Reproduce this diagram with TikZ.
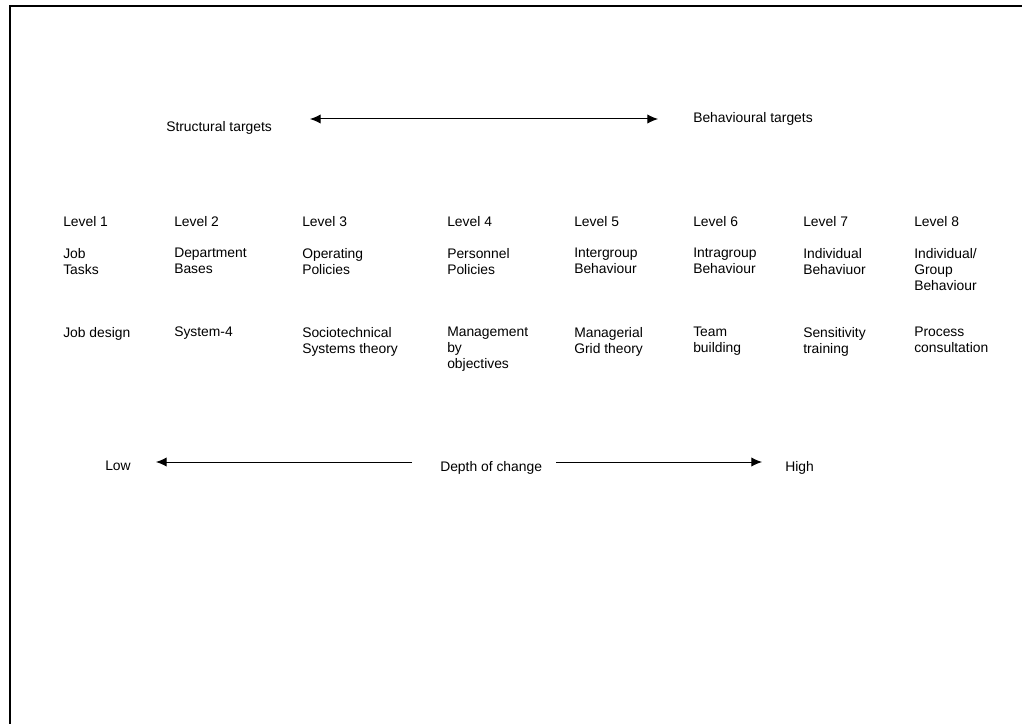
\documentclass[tikz,border=0pt]{standalone}
\usepackage{fontspec}
\setmainfont{Liberation Sans}
\usetikzlibrary{arrows.meta}

\begin{document}
\begin{tikzpicture}[x=0.75pt,y=-0.75pt]
  \tikzset{TextStyle/.style={anchor=north west, inner sep=0pt, align=left,
      font=\fontsize{10.4}{12}\selectfont}}
  \tikzset{ArrowStyle/.style={-{Latex[length=8pt,width=7pt]}, line width=0.75pt}}
  \tikzset{BothStyle/.style={{Latex[length=8pt,width=7pt]}-{Latex[length=8pt,width=7pt]}, line width=0.75pt}}
  \tikzset{FrameStyle/.style={line width=1.8pt}}

  \useasboundingbox (0,0) rectangle (1022,724);
  \draw[FrameStyle] (10,724) |- (1022,6);

\node[TextStyle] (struct) at (166,121) {Structural targets};
\node[TextStyle] (behav) at (693,112) {Behavioural targets};
   \coordinate (tL) at (310,119);
   \coordinate (tR) at (658,119);
   \draw[BothStyle] (tL) -- (tR);

   % levels
   \node[TextStyle] (L1) at (63,216) {Level 1};
   \node[TextStyle] (L2) at (174,216) {Level 2};
   \node[TextStyle] (L3) at (302,216) {Level 3};
   \node[TextStyle] (L4) at (447,216) {Level 4};
   \node[TextStyle] (L5) at (574,216) {Level 5};
   \node[TextStyle] (L6) at (693,216) {Level 6};
   \node[TextStyle] (L7) at (803,216) {Level 7};
   \node[TextStyle] (L8) at (914,216) {Level 8};

   % targets
   \node[TextStyle] (T1) at (63,248) {Job\\Tasks};
   \node[TextStyle] (T2) at (174,248) {Department\\Bases};
   \node[TextStyle] (T3) at (302,248) {Operating\\Policies};
   \node[TextStyle] (T4) at (447,248) {Personnel\\Policies};
   \node[TextStyle] (T5) at (574,248) {Intergroup\\Behaviour};
   \node[TextStyle] (T6) at (693,248) {Intragroup\\Behaviour};
   \node[TextStyle] (T7) at (803,248) {Individual\\Behaviuor};
   \node[TextStyle] (T8) at (914,248) {Individual/\\Group\\Behaviour};

   % interventions
   \node[TextStyle] (I1) at (63,327) {Job design};
   \node[TextStyle] (I2) at (174,327) {System-4};
   \node[TextStyle] (I3) at (302,327) {Sociotechnical\\Systems theory};
   \node[TextStyle] (I4) at (447,327) {Management\\by\\objectives};
   \node[TextStyle] (I5) at (574,327) {Managerial\\Grid theory};
   \node[TextStyle] (I6) at (693,327) {Team\\building};
   \node[TextStyle] (I7) at (803,327) {Sensitivity\\training};
   \node[TextStyle] (I8) at (914,327) {Process\\consultation};

\node[TextStyle] (low) at (105,461) {Low};
\node[TextStyle] (depth) at (440,461) {Depth of change};
\node[TextStyle] (high) at (785,461) {High};
   \coordinate (dL) at (412,462);
   \coordinate (lowtip) at (156,462);
   \coordinate (dR) at (556,462);
   \coordinate (hightip) at (762,462);
   \draw[ArrowStyle] (dL) -- (lowtip);
   \draw[ArrowStyle] (dR) -- (hightip);
\end{tikzpicture}
\end{document}
